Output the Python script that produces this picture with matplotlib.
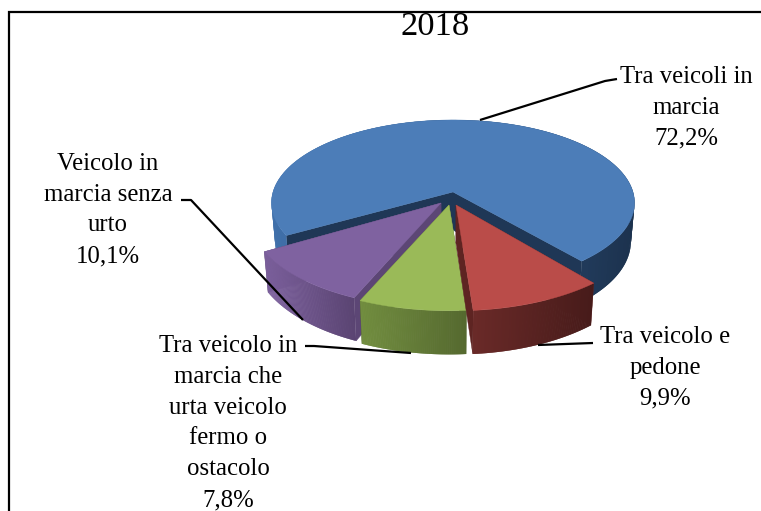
#!/usr/bin/env python3
"""Exploded 3D-look pie, 2018 accident types"""

import numpy as np
import matplotlib
matplotlib.use('Agg')
import matplotlib.pyplot as plt
from matplotlib.colors import to_rgb
from matplotlib.patches import Polygon

title = '2018'
categories = ['Tra veicoli in\nmarcia',
              'Tra veicolo e\npedone',
              'Tra veicolo in\nmarcia che\nurta veicolo\nfermo o\nostacolo',
              'Veicolo in\nmarcia senza\nurto']
shares = [72.2, 9.9, 7.8, 10.1]

# top, wall left, wall right, cut face
slice_colors = [('#4C7DB8', '#4070AA', '#1C324E', '#1F3756'),
                ('#BA4C49', '#6A2A28', '#471B1A', '#5E2422'),
                ('#9ABA58', '#728E40', '#55692F', '#55692F'),
                ('#7F62A0', '#7D619E', '#5A4472', '#5C4675')]

# apex in pixels and stretch of each slice, the pulled out ones come closer
apexes = [(453, 192), (456, 205), (449, 205), (441, 203)]
stretch = [(1.0, 1.0), (1.07, 1.13), (1.085, 1.13), (1.06, 1.12)]
label_pos = [(686, 108), (665, 368), (228, 423), (108, 210)]
leaders = [[(480, 120), (605, 81), (617, 79)],
           [(593, 343), (538, 345)],
           [(305, 346), (314, 346), (411, 353)],
           [(181, 200), (191, 200), (303, 320)]]

START = 240.0
RX, RY, PERSP = 180.0, 81.4, 0.13
WALL = 38.0
SERIF = 'Liberation Serif'


def rim(theta, i):
    """Rim points of slice i for angles in degrees, clockwise from the back"""
    t = np.radians(theta)
    s = 1.0 / (1.0 + PERSP * np.cos(t))
    x = apexes[i][0] + stretch[i][0] * RX * np.sin(t) * s
    y = apexes[i][1] - stretch[i][1] * RY * np.cos(t) * s
    return x, y, s


def drop(x, y, s):
    """Same points on the underside of the disc"""
    return 453 + (x - 453) * 0.98, y + WALL * s


def draw_slice(ax, i, a0, a1):
    top, wall_l, wall_r, cut = slice_colors[i]
    apex = apexes[i]
    theta = np.linspace(a0, a1, 160)
    x, y, s = rim(theta, i)
    bx, by = drop(x, y, s)
    ax_b, ay_b = drop(apex[0], apex[1], 1.0)

    # cut faces first, walls and top go over them
    for k in (0, -1):
        face = [apex, (x[k], y[k]), (bx[k], by[k]), (ax_b, ay_b)]
        ax.add_patch(Polygon(face, closed=True, fc=cut, ec=cut, lw=0.3))

    # outer wall as strips that overlap, otherwise the seams show
    left, right = x.min(), x.max()
    cl, cr = np.array(to_rgb(wall_l)), np.array(to_rgb(wall_r))
    for k in range(len(theta) - 2):
        f = ((x[k] + x[k + 1]) / 2 - left) / (right - left)
        col = tuple(cl + (cr - cl) * f)
        strip = [(x[k], y[k]), (x[k + 2], y[k + 2]), (bx[k + 2], by[k + 2]), (bx[k], by[k])]
        ax.add_patch(Polygon(strip, closed=True, fc=col, ec='none', lw=0))

    pts = [apex] + list(zip(x, y))
    ax.add_patch(Polygon(pts, closed=True, fc=top, ec=top, lw=0.3))


fig = plt.figure(figsize=(7.61, 5.11), dpi=100)
ax = fig.add_axes([0, 0, 1, 1])
ax.set_xlim(0, 761)
ax.set_ylim(511, 0)
ax.axis('off')

# frame, cut off at right and bottom
ax.plot([9, 9, 761], [511, 12, 12], color='black', lw=1.6, solid_joinstyle='miter')

sweep = np.array(shares) / sum(shares) * 360.0
starts = START + np.concatenate(([0], np.cumsum(sweep)[:-1]))

# back to front
for i in [0, 3, 2, 1]:
    draw_slice(ax, i, starts[i], starts[i] + sweep[i])

for line in leaders:
    xs, ys = zip(*line)
    ax.plot(xs, ys, color='black', lw=1.6, solid_capstyle='butt')

for name, value, (lx, ly) in zip(categories, shares, label_pos):
    txt = name + '\n' + f'{value:.1f}'.replace('.', ',') + '%'
    ax.text(lx, ly, txt, ha='center', va='center', family=SERIF, fontsize=17.8,
            linespacing=1.52, color='black')

ax.text(435, 27, title, ha='center', va='center', family=SERIF, fontsize=24.8, color='black')

fig.savefig('out.png', dpi=100, facecolor='white')
